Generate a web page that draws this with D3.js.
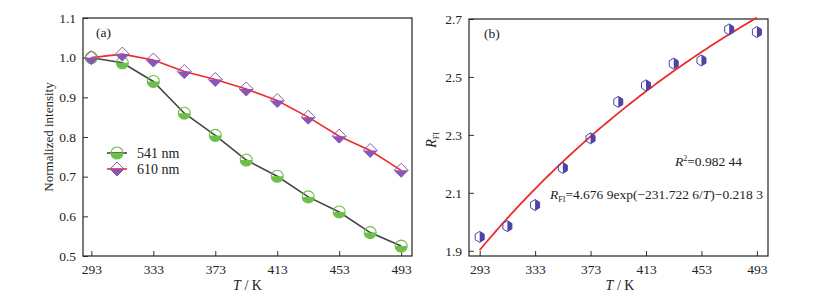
<!DOCTYPE html>
<html><head><meta charset="utf-8">
<script src="https://cdn.jsdelivr.net/npm/d3@7"></script>
<style>body{margin:0;background:#fff}svg{display:block}text{font-family:"Liberation Serif","Times New Roman",serif;fill:#222}</style>
</head><body><svg id="c" width="831" height="299"></svg>
<script>
const temps = [293,313,333,353,373,393,413,433,453,473,493];
const tickT = [293,333,373,413,453,493];
const int541 = [1.000,0.987,0.940,0.860,0.804,0.742,0.701,0.649,0.611,0.559,0.525];
const int610 = [1.000,1.009,0.994,0.965,0.945,0.921,0.892,0.850,0.802,0.766,0.716];
const ticksA = [0.5,0.6,0.7,0.8,0.9,1.0,1.1];
const rfi = [1.948,1.985,2.058,2.186,2.288,2.414,2.471,2.546,2.557,2.664,2.655];
const ticksB = [1.9,2.1,2.3,2.5,2.7];
const fitA = 4.6769, fitB = 231.7226, fitC = 0.2183;
const seriesNames = ["541 nm","610 nm"];

const svg = d3.select("#c");
const GREEN="#6cc04a", PURPLE="#8a55b8", BLUE="#4c44a6", RED="#ee2b2b", DARK="#454545";

function frame(g, x, y, w, h, xt, yt, yfmt){
  const xa = d3.axisBottom(x).tickValues(xt).tickSize(-5).tickPadding(8).tickFormat(d3.format("d"));
  const ya = d3.axisLeft(y).tickValues(yt).tickSize(-5).tickPadding(7).tickFormat(yfmt);
  const gx = g.append("g").attr("transform",`translate(0,${h})`).call(xa);
  const gy = g.append("g").call(ya);
  [gx,gy].forEach(a=>{a.select(".domain").remove();a.selectAll("line").attr("stroke","#333");a.selectAll("text").style("font-size","13.5px").attr("fill","#222");});
  g.append("rect").attr("width",w).attr("height",h).attr("fill","none").attr("stroke","#222").attr("stroke-width",1.2);
}

// Panel a
{
  const L=83,T=18,W=329,H=238;
  const g = svg.append("g").attr("transform",`translate(${L},${T})`);
  const x = d3.scaleLinear().domain([287.6,500]).range([0,W]);
  const y = d3.scaleLinear().domain([0.5,1.1]).range([H,0]);
  frame(g,x,y,W,H,tickT,ticksA,d3.format(".1f"));
  const line = d3.line().x((d,i)=>x(temps[i])).y(d=>y(d));
  g.append("path").datum(int541).attr("d",line).attr("fill","none").attr("stroke",DARK).attr("stroke-width",1.6);
  g.append("path").datum(int610).attr("d",line).attr("fill","none").attr("stroke",RED).attr("stroke-width",1.6);
  const r=6, s=7;
  function circ(sel,cx,cy){
    sel.append("path").attr("d",`M${cx-r},${cy} A${r},${r} 0 0 0 ${cx+r},${cy} Z`).attr("fill",GREEN);
    sel.append("circle").attr("cx",cx).attr("cy",cy).attr("r",r).attr("fill","none").attr("stroke",GREEN).attr("stroke-width",1.1);
  }
  function diam(sel,cx,cy){
    sel.append("path").attr("d",`M${cx-s},${cy} L${cx+s},${cy} L${cx},${cy+s} Z`).attr("fill",PURPLE);
    sel.append("path").attr("d",`M${cx-s},${cy} L${cx},${cy-s} L${cx+s},${cy} L${cx},${cy+s} Z`).attr("fill","none").attr("stroke",PURPLE).attr("stroke-width",1);
  }
  int541.forEach((v,i)=>circ(g,x(temps[i]),y(v)));
  int610.forEach((v,i)=>diam(g,x(temps[i]),y(v)));
  g.append("text").attr("x",13).attr("y",19).style("font-size","13.5px").text("(a)");
  // legend
  const ly=[135,151];
  g.append("line").attr("x1",24).attr("x2",44).attr("y1",ly[0]).attr("y2",ly[0]).attr("stroke",DARK).attr("stroke-width",1.6);
  circ(g,34,ly[0]);
  g.append("line").attr("x1",24).attr("x2",44).attr("y1",ly[1]).attr("y2",ly[1]).attr("stroke",RED).attr("stroke-width",1.6);
  diam(g,34,ly[1]);
  seriesNames.forEach((n,i)=>g.append("text").attr("x",54).attr("y",ly[i]+5).style("font-size","14px").text(n));
  svg.append("text").attr("transform","translate(53,137) rotate(-90)").attr("text-anchor","middle").style("font-size","13px").text("Normalized intensity");
  const xl = svg.append("text").attr("x",L+W/2).attr("y",290).attr("text-anchor","middle").style("font-size","14px");
  xl.append("tspan").attr("font-style","italic").text("T");
  xl.append("tspan").text(" / K");
}

// Panel b
{
  const L=469,T=19,W=299,H=237;
  const g = svg.append("g").attr("transform",`translate(${L},${T})`);
  const x = d3.scaleLinear().domain([285.3,501]).range([0,W]);
  const y = d3.scaleLinear().domain([1.882,2.7]).range([H,0]);
  frame(g,x,y,W,H,tickT,ticksB,d3.format(".1f"));
  const fitT = d3.range(293,493.01,2);
  g.append("path").datum(fitT).attr("d",d3.line().x(t=>x(t)).y(t=>y(fitA*Math.exp(-fitB/t)-fitC)))
    .attr("fill","none").attr("stroke",RED).attr("stroke-width",1.8);
  const hw=4.5, hh=5.5;
  rfi.forEach((v,i)=>{
    const cx=x(temps[i]), cy=y(v);
    g.append("path").attr("d",`M${cx},${cy-hh} L${cx+hw},${cy-hh/2} L${cx+hw},${cy+hh/2} L${cx},${cy+hh} Z`).attr("fill",BLUE);
    g.append("path").attr("d",`M${cx},${cy-hh} L${cx+hw},${cy-hh/2} L${cx+hw},${cy+hh/2} L${cx},${cy+hh} L${cx-hw},${cy+hh/2} L${cx-hw},${cy-hh/2} Z`)
      .attr("fill","none").attr("stroke",BLUE).attr("stroke-width",1);
  });
  g.append("text").attr("x",15).attr("y",19).style("font-size","13.5px").text("(b)");
  const t1 = g.append("text").attr("x",206).attr("y",147).style("font-size","13.5px");
  t1.append("tspan").attr("font-style","italic").text("R");
  t1.append("tspan").attr("dy",-5).style("font-size","8px").text("2");
  t1.append("tspan").attr("dy",5).text("=0.982 44");
  const t2 = g.append("text").attr("x",81).attr("y",180).style("font-size","13.5px");
  t2.append("tspan").attr("font-style","italic").text("R");
  t2.append("tspan").attr("dy",3).style("font-size","8px").text("FI");
  t2.append("tspan").attr("dy",-3).text("=4.676 9exp(\u2212231.722 6/");
  t2.append("tspan").attr("font-style","italic").text("T");
  t2.append("tspan").text(")\u22120.218 3");
  const yl = svg.append("text").attr("transform","translate(436,140) rotate(-90)").attr("text-anchor","middle").style("font-size","14px");
  yl.append("tspan").attr("font-style","italic").text("R");
  yl.append("tspan").attr("dy",3).style("font-size","8px").text("FI");
  const xl = svg.append("text").attr("x",620).attr("y",290).attr("text-anchor","middle").style("font-size","14px");
  xl.append("tspan").attr("font-style","italic").text("T");
  xl.append("tspan").text(" / K");
}
</script></body></html>
